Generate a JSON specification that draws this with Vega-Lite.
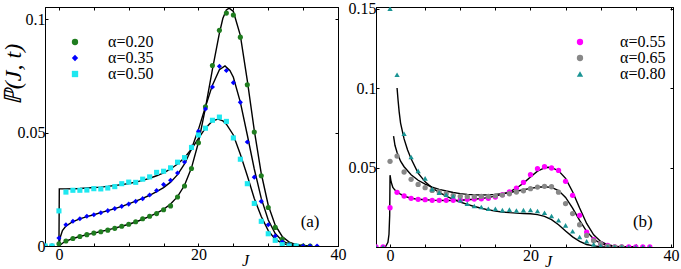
{
  "$schema": "https://vega.github.io/schema/vega-lite/v6.json",
  "background": "white",
  "padding": {"left": 0, "top": 0, "right": 5, "bottom": 0},
  "spacing": 0,
  "config": {
    "view": {"stroke": "black", "strokeWidth": 1},
    "axis": {"labelFont": "Liberation Serif", "labelFontSize": 16, "labelColor": "black", "domainColor": "black", "tickColor": "black", "tickSize": -3, "grid": false, "titleFont": "Liberation Serif", "titleColor": "black", "labelPadding": 3, "labelFlush": false},
    "legend": {"labelFont": "Liberation Serif", "labelFontSize": 16, "labelColor": "black", "padding": 0}
  },
  "datasets": {
    "ptsA": [
      {"J":-2,"P":0,"s":"α=0.20"},{"J":-1,"P":0,"s":"α=0.20"},{"J":0,"P":0.001,"s":"α=0.20"},{"J":1,"P":0.0022,"s":"α=0.20"},{"J":2,"P":0.0033,"s":"α=0.20"},{"J":3,"P":0.0042,"s":"α=0.20"},{"J":4,"P":0.005,"s":"α=0.20"},{"J":5,"P":0.0057,"s":"α=0.20"},{"J":6,"P":0.0063,"s":"α=0.20"},{"J":7,"P":0.007,"s":"α=0.20"},{"J":8,"P":0.0078,"s":"α=0.20"},{"J":9,"P":0.0087,"s":"α=0.20"},{"J":10,"P":0.0096,"s":"α=0.20"},{"J":11,"P":0.0107,"s":"α=0.20"},{"J":12,"P":0.012,"s":"α=0.20"},{"J":13,"P":0.0131,"s":"α=0.20"},{"J":14,"P":0.0143,"s":"α=0.20"},{"J":15,"P":0.016,"s":"α=0.20"},{"J":16,"P":0.0177,"s":"α=0.20"},{"J":17,"P":0.0216,"s":"α=0.20"},{"J":18,"P":0.0265,"s":"α=0.20"},{"J":19,"P":0.0342,"s":"α=0.20"},{"J":20,"P":0.0456,"s":"α=0.20"},{"J":21,"P":0.0615,"s":"α=0.20"},{"J":22,"P":0.0797,"s":"α=0.20"},{"J":23,"P":0.0952,"s":"α=0.20"},{"J":24,"P":0.1028,"s":"α=0.20"},{"J":25,"P":0.102,"s":"α=0.20"},{"J":26,"P":0.0922,"s":"α=0.20"},{"J":27,"P":0.0712,"s":"α=0.20"},{"J":28,"P":0.0503,"s":"α=0.20"},{"J":29,"P":0.031,"s":"α=0.20"},{"J":30,"P":0.017,"s":"α=0.20"},{"J":31,"P":0.0082,"s":"α=0.20"},{"J":32,"P":0.003,"s":"α=0.20"},{"J":33,"P":0.0007,"s":"α=0.20"},{"J":34,"P":0,"s":"α=0.20"},{"J":35,"P":0,"s":"α=0.20"},{"J":36,"P":0,"s":"α=0.20"},
      {"J":-2,"P":0,"s":"α=0.35"},{"J":-1,"P":0,"s":"α=0.35"},{"J":0,"P":0.0035,"s":"α=0.35"},{"J":1,"P":0.0094,"s":"α=0.35"},{"J":2,"P":0.0109,"s":"α=0.35"},{"J":3,"P":0.012,"s":"α=0.35"},{"J":4,"P":0.0131,"s":"α=0.35"},{"J":5,"P":0.0138,"s":"α=0.35"},{"J":6,"P":0.0147,"s":"α=0.35"},{"J":7,"P":0.0156,"s":"α=0.35"},{"J":8,"P":0.0165,"s":"α=0.35"},{"J":9,"P":0.0175,"s":"α=0.35"},{"J":10,"P":0.0185,"s":"α=0.35"},{"J":11,"P":0.0197,"s":"α=0.35"},{"J":12,"P":0.0209,"s":"α=0.35"},{"J":13,"P":0.0225,"s":"α=0.35"},{"J":14,"P":0.0245,"s":"α=0.35"},{"J":15,"P":0.0271,"s":"α=0.35"},{"J":16,"P":0.029,"s":"α=0.35"},{"J":17,"P":0.0322,"s":"α=0.35"},{"J":18,"P":0.0371,"s":"α=0.35"},{"J":19,"P":0.0437,"s":"α=0.35"},{"J":20,"P":0.0506,"s":"α=0.35"},{"J":21,"P":0.0605,"s":"α=0.35"},{"J":22,"P":0.0702,"s":"α=0.35"},{"J":23,"P":0.0793,"s":"α=0.35"},{"J":24,"P":0.0775,"s":"α=0.35"},{"J":25,"P":0.0721,"s":"α=0.35"},{"J":26,"P":0.0634,"s":"α=0.35"},{"J":27,"P":0.0459,"s":"α=0.35"},{"J":28,"P":0.0304,"s":"α=0.35"},{"J":29,"P":0.0197,"s":"α=0.35"},{"J":30,"P":0.0094,"s":"α=0.35"},{"J":31,"P":0.0044,"s":"α=0.35"},{"J":32,"P":0.0018,"s":"α=0.35"},{"J":33,"P":0.0005,"s":"α=0.35"},{"J":34,"P":0,"s":"α=0.35"},{"J":35,"P":0,"s":"α=0.35"},{"J":36,"P":0,"s":"α=0.35"},{"J":37,"P":0,"s":"α=0.35"},
      {"J":-2,"P":0,"s":"α=0.50"},{"J":-1,"P":0,"s":"α=0.50"},{"J":0,"P":0.0155,"s":"α=0.50"},{"J":1,"P":0.0238,"s":"α=0.50"},{"J":2,"P":0.0246,"s":"α=0.50"},{"J":3,"P":0.0246,"s":"α=0.50"},{"J":4,"P":0.0247,"s":"α=0.50"},{"J":5,"P":0.0253,"s":"α=0.50"},{"J":6,"P":0.0252,"s":"α=0.50"},{"J":7,"P":0.0256,"s":"α=0.50"},{"J":8,"P":0.0262,"s":"α=0.50"},{"J":9,"P":0.0275,"s":"α=0.50"},{"J":10,"P":0.0282,"s":"α=0.50"},{"J":11,"P":0.0281,"s":"α=0.50"},{"J":12,"P":0.0295,"s":"α=0.50"},{"J":13,"P":0.0305,"s":"α=0.50"},{"J":14,"P":0.0325,"s":"α=0.50"},{"J":15,"P":0.033,"s":"α=0.50"},{"J":16,"P":0.0345,"s":"α=0.50"},{"J":17,"P":0.037,"s":"α=0.50"},{"J":18,"P":0.039,"s":"α=0.50"},{"J":19,"P":0.0435,"s":"α=0.50"},{"J":20,"P":0.049,"s":"α=0.50"},{"J":21,"P":0.052,"s":"α=0.50"},{"J":22,"P":0.0555,"s":"α=0.50"},{"J":23,"P":0.0569,"s":"α=0.50"},{"J":24,"P":0.055,"s":"α=0.50"},{"J":25,"P":0.0477,"s":"α=0.50"},{"J":26,"P":0.0383,"s":"α=0.50"},{"J":27,"P":0.0275,"s":"α=0.50"},{"J":28,"P":0.0188,"s":"α=0.50"},{"J":29,"P":0.0109,"s":"α=0.50"},{"J":30,"P":0.0054,"s":"α=0.50"},{"J":31,"P":0.0025,"s":"α=0.50"},{"J":32,"P":0.0006,"s":"α=0.50"},{"J":33,"P":0,"s":"α=0.50"},{"J":34,"P":0,"s":"α=0.50"}
    ],
    "linA": [
      {"J":0,"P":0,"s":"a"},{"J":0.5,"P":0.0012,"s":"a"},{"J":1,"P":0.0022,"s":"a"},{"J":2,"P":0.0033,"s":"a"},{"J":3,"P":0.0042,"s":"a"},{"J":4,"P":0.005,"s":"a"},{"J":5,"P":0.0057,"s":"a"},{"J":6,"P":0.0064,"s":"a"},{"J":7,"P":0.0071,"s":"a"},{"J":8,"P":0.0079,"s":"a"},{"J":9,"P":0.0087,"s":"a"},{"J":10,"P":0.0096,"s":"a"},{"J":11,"P":0.0106,"s":"a"},{"J":12,"P":0.0118,"s":"a"},{"J":13,"P":0.0131,"s":"a"},{"J":14,"P":0.0145,"s":"a"},{"J":15,"P":0.0162,"s":"a"},{"J":16,"P":0.0185,"s":"a"},{"J":17,"P":0.0218,"s":"a"},{"J":18,"P":0.0268,"s":"a"},{"J":19,"P":0.0345,"s":"a"},{"J":20,"P":0.0458,"s":"a"},{"J":21,"P":0.061,"s":"a"},{"J":22,"P":0.078,"s":"a"},{"J":23,"P":0.094,"s":"a"},{"J":23.5,"P":0.1005,"s":"a"},{"J":24,"P":0.1042,"s":"a"},{"J":24.4,"P":0.105,"s":"a"},{"J":25,"P":0.1035,"s":"a"},{"J":26,"P":0.093,"s":"a"},{"J":27,"P":0.073,"s":"a"},{"J":28,"P":0.051,"s":"a"},{"J":29,"P":0.032,"s":"a"},{"J":30,"P":0.018,"s":"a"},{"J":31,"P":0.0092,"s":"a"},{"J":32,"P":0.0042,"s":"a"},{"J":33,"P":0.0017,"s":"a"},{"J":34,"P":0.0006,"s":"a"},{"J":35,"P":0.0002,"s":"a"},{"J":36,"P":0,"s":"a"},
      {"J":0,"P":0,"s":"b"},{"J":0.2,"P":0.004,"s":"b"},{"J":0.5,"P":0.0068,"s":"b"},{"J":1,"P":0.0088,"s":"b"},{"J":2,"P":0.0108,"s":"b"},{"J":3,"P":0.012,"s":"b"},{"J":4,"P":0.013,"s":"b"},{"J":5,"P":0.0138,"s":"b"},{"J":6,"P":0.0147,"s":"b"},{"J":7,"P":0.0156,"s":"b"},{"J":8,"P":0.0165,"s":"b"},{"J":9,"P":0.0175,"s":"b"},{"J":10,"P":0.0186,"s":"b"},{"J":11,"P":0.0198,"s":"b"},{"J":12,"P":0.021,"s":"b"},{"J":13,"P":0.0224,"s":"b"},{"J":14,"P":0.024,"s":"b"},{"J":15,"P":0.0258,"s":"b"},{"J":16,"P":0.0282,"s":"b"},{"J":17,"P":0.0315,"s":"b"},{"J":18,"P":0.0362,"s":"b"},{"J":19,"P":0.0428,"s":"b"},{"J":20,"P":0.0515,"s":"b"},{"J":21,"P":0.0615,"s":"b"},{"J":22,"P":0.071,"s":"b"},{"J":23,"P":0.0778,"s":"b"},{"J":23.8,"P":0.0795,"s":"b"},{"J":24.5,"P":0.0775,"s":"b"},{"J":25,"P":0.0745,"s":"b"},{"J":26,"P":0.0635,"s":"b"},{"J":27,"P":0.049,"s":"b"},{"J":28,"P":0.034,"s":"b"},{"J":29,"P":0.021,"s":"b"},{"J":30,"P":0.0115,"s":"b"},{"J":31,"P":0.0055,"s":"b"},{"J":32,"P":0.0023,"s":"b"},{"J":33,"P":0.0008,"s":"b"},{"J":34,"P":0.0002,"s":"b"},{"J":35,"P":0,"s":"b"},
      {"J":0,"P":0,"s":"c"},{"J":0.05,"P":0.0252,"s":"c"},{"J":1,"P":0.0252,"s":"c"},{"J":2,"P":0.0253,"s":"c"},{"J":3,"P":0.0254,"s":"c"},{"J":4,"P":0.0256,"s":"c"},{"J":5,"P":0.0258,"s":"c"},{"J":6,"P":0.026,"s":"c"},{"J":7,"P":0.0263,"s":"c"},{"J":8,"P":0.0267,"s":"c"},{"J":9,"P":0.0271,"s":"c"},{"J":10,"P":0.0276,"s":"c"},{"J":11,"P":0.0282,"s":"c"},{"J":12,"P":0.029,"s":"c"},{"J":13,"P":0.0299,"s":"c"},{"J":14,"P":0.031,"s":"c"},{"J":15,"P":0.0323,"s":"c"},{"J":16,"P":0.034,"s":"c"},{"J":17,"P":0.0362,"s":"c"},{"J":18,"P":0.039,"s":"c"},{"J":19,"P":0.0428,"s":"c"},{"J":20,"P":0.0475,"s":"c"},{"J":21,"P":0.052,"s":"c"},{"J":22,"P":0.0552,"s":"c"},{"J":22.8,"P":0.056,"s":"c"},{"J":23.5,"P":0.0552,"s":"c"},{"J":24,"P":0.0538,"s":"c"},{"J":25,"P":0.049,"s":"c"},{"J":26,"P":0.0405,"s":"c"},{"J":27,"P":0.031,"s":"c"},{"J":28,"P":0.021,"s":"c"},{"J":29,"P":0.013,"s":"c"},{"J":30,"P":0.0068,"s":"c"},{"J":31,"P":0.003,"s":"c"},{"J":32,"P":0.0012,"s":"c"},{"J":33,"P":0.0004,"s":"c"},{"J":34,"P":0,"s":"c"}
    ],
    "ptsB": [
      {"J":-2,"P":0,"s":"α=0.55"},{"J":-1,"P":0,"s":"α=0.55"},{"J":0,"P":0.0247,"s":"α=0.55"},{"J":1,"P":0.0344,"s":"α=0.55"},{"J":2,"P":0.0321,"s":"α=0.55"},{"J":3,"P":0.0306,"s":"α=0.55"},{"J":4,"P":0.03,"s":"α=0.55"},{"J":5,"P":0.0298,"s":"α=0.55"},{"J":6,"P":0.0294,"s":"α=0.55"},{"J":7,"P":0.0294,"s":"α=0.55"},{"J":8,"P":0.0294,"s":"α=0.55"},{"J":9,"P":0.0294,"s":"α=0.55"},{"J":10,"P":0.0296,"s":"α=0.55"},{"J":11,"P":0.03,"s":"α=0.55"},{"J":12,"P":0.0302,"s":"α=0.55"},{"J":13,"P":0.0303,"s":"α=0.55"},{"J":14,"P":0.0306,"s":"α=0.55"},{"J":15,"P":0.0314,"s":"α=0.55"},{"J":16,"P":0.0329,"s":"α=0.55"},{"J":17,"P":0.0346,"s":"α=0.55"},{"J":18,"P":0.0371,"s":"α=0.55"},{"J":19,"P":0.0406,"s":"α=0.55"},{"J":20,"P":0.0455,"s":"α=0.55"},{"J":21,"P":0.0493,"s":"α=0.55"},{"J":22,"P":0.0505,"s":"α=0.55"},{"J":23,"P":0.0497,"s":"α=0.55"},{"J":24,"P":0.0482,"s":"α=0.55"},{"J":25,"P":0.0413,"s":"α=0.55"},{"J":26,"P":0.0325,"s":"α=0.55"},{"J":27,"P":0.0199,"s":"α=0.55"},{"J":28,"P":0.0094,"s":"α=0.55"},{"J":29,"P":0.0046,"s":"α=0.55"},{"J":30,"P":0.0021,"s":"α=0.55"},{"J":31,"P":0.001,"s":"α=0.55"},{"J":32,"P":0,"s":"α=0.55"},{"J":33,"P":0,"s":"α=0.55"},{"J":34,"P":0,"s":"α=0.55"},{"J":35,"P":0,"s":"α=0.55"},{"J":36,"P":0,"s":"α=0.55"},{"J":37,"P":0,"s":"α=0.55"},
      {"J":0,"P":0.0539,"s":"α=0.65"},{"J":1,"P":0.0572,"s":"α=0.65"},{"J":2,"P":0.0472,"s":"α=0.65"},{"J":3,"P":0.0426,"s":"α=0.65"},{"J":4,"P":0.0394,"s":"α=0.65"},{"J":5,"P":0.0373,"s":"α=0.65"},{"J":6,"P":0.0356,"s":"α=0.65"},{"J":7,"P":0.0346,"s":"α=0.65"},{"J":8,"P":0.0335,"s":"α=0.65"},{"J":9,"P":0.0325,"s":"α=0.65"},{"J":10,"P":0.0319,"s":"α=0.65"},{"J":11,"P":0.0317,"s":"α=0.65"},{"J":12,"P":0.0317,"s":"α=0.65"},{"J":13,"P":0.0319,"s":"α=0.65"},{"J":14,"P":0.0319,"s":"α=0.65"},{"J":15,"P":0.0322,"s":"α=0.65"},{"J":16,"P":0.0327,"s":"α=0.65"},{"J":17,"P":0.0335,"s":"α=0.65"},{"J":18,"P":0.0346,"s":"α=0.65"},{"J":19,"P":0.0354,"s":"α=0.65"},{"J":20,"P":0.0367,"s":"α=0.65"},{"J":21,"P":0.0377,"s":"α=0.65"},{"J":22,"P":0.0382,"s":"α=0.65"},{"J":23,"P":0.0379,"s":"α=0.65"},{"J":24,"P":0.0345,"s":"α=0.65"},{"J":25,"P":0.0273,"s":"α=0.65"},{"J":26,"P":0.021,"s":"α=0.65"},{"J":27,"P":0.014,"s":"α=0.65"},{"J":28,"P":0.0073,"s":"α=0.65"},{"J":29,"P":0.004,"s":"α=0.65"},{"J":30,"P":0.0021,"s":"α=0.65"},{"J":31,"P":0.0006,"s":"α=0.65"},{"J":32,"P":0,"s":"α=0.65"},{"J":33,"P":0,"s":"α=0.65"},
      {"J":-2,"P":0,"s":"α=0.80"},{"J":-1,"P":0,"s":"α=0.80"},{"J":0,"P":0.15,"s":"α=0.80"},{"J":1,"P":0.1084,"s":"α=0.80"},{"J":2,"P":0.0713,"s":"α=0.80"},{"J":3,"P":0.0566,"s":"α=0.80"},{"J":4,"P":0.0479,"s":"α=0.80"},{"J":5,"P":0.0432,"s":"α=0.80"},{"J":6,"P":0.0364,"s":"α=0.80"},{"J":7,"P":0.0342,"s":"α=0.80"},{"J":8,"P":0.0329,"s":"α=0.80"},{"J":9,"P":0.0319,"s":"α=0.80"},{"J":10,"P":0.0294,"s":"α=0.80"},{"J":11,"P":0.0272,"s":"α=0.80"},{"J":12,"P":0.0258,"s":"α=0.80"},{"J":13,"P":0.0252,"s":"α=0.80"},{"J":14,"P":0.0241,"s":"α=0.80"},{"J":15,"P":0.0241,"s":"α=0.80"},{"J":16,"P":0.0232,"s":"α=0.80"},{"J":17,"P":0.0235,"s":"α=0.80"},{"J":18,"P":0.023,"s":"α=0.80"},{"J":19,"P":0.0232,"s":"α=0.80"},{"J":20,"P":0.0233,"s":"α=0.80"},{"J":21,"P":0.0226,"s":"α=0.80"},{"J":22,"P":0.0216,"s":"α=0.80"},{"J":23,"P":0.0195,"s":"α=0.80"},{"J":24,"P":0.0168,"s":"α=0.80"},{"J":25,"P":0.0136,"s":"α=0.80"},{"J":26,"P":0.0099,"s":"α=0.80"},{"J":27,"P":0.0063,"s":"α=0.80"},{"J":28,"P":0.0036,"s":"α=0.80"},{"J":29,"P":0.0017,"s":"α=0.80"},{"J":30,"P":0.0007,"s":"α=0.80"},{"J":31,"P":0,"s":"α=0.80"},{"J":32,"P":0,"s":"α=0.80"},{"J":33,"P":0,"s":"α=0.80"},{"J":34,"P":0,"s":"α=0.80"},{"J":35,"P":0,"s":"α=0.80"},{"J":36,"P":0,"s":"α=0.80"},{"J":37,"P":0,"s":"α=0.80"}
    ],
    "linB": [
      {"J":-1,"P":0,"s":"m"},{"J":-0.6,"P":0.0005,"s":"m"},{"J":-0.3,"P":0.003,"s":"m"},{"J":-0.15,"P":0.008,"s":"m"},{"J":-0.05,"P":0.02,"s":"m"},{"J":0,"P":0.0452,"s":"m"},{"J":0.15,"P":0.041,"s":"m"},{"J":0.4,"P":0.0375,"s":"m"},{"J":0.7,"P":0.0358,"s":"m"},{"J":1,"P":0.0347,"s":"m"},{"J":1.5,"P":0.0332,"s":"m"},{"J":2,"P":0.032,"s":"m"},{"J":3,"P":0.0307,"s":"m"},{"J":4,"P":0.03,"s":"m"},{"J":5,"P":0.0297,"s":"m"},{"J":6,"P":0.0295,"s":"m"},{"J":8,"P":0.0293,"s":"m"},{"J":10,"P":0.0294,"s":"m"},{"J":12,"P":0.03,"s":"m"},{"J":14,"P":0.0311,"s":"m"},{"J":16,"P":0.0331,"s":"m"},{"J":17,"P":0.0347,"s":"m"},{"J":18,"P":0.037,"s":"m"},{"J":19,"P":0.0402,"s":"m"},{"J":20,"P":0.044,"s":"m"},{"J":21,"P":0.0477,"s":"m"},{"J":22,"P":0.0498,"s":"m"},{"J":22.5,"P":0.0502,"s":"m"},{"J":23,"P":0.0499,"s":"m"},{"J":24,"P":0.048,"s":"m"},{"J":25,"P":0.0432,"s":"m"},{"J":26,"P":0.0348,"s":"m"},{"J":27,"P":0.0245,"s":"m"},{"J":28,"P":0.0148,"s":"m"},{"J":29,"P":0.0077,"s":"m"},{"J":30,"P":0.0035,"s":"m"},{"J":31,"P":0.0014,"s":"m"},{"J":32,"P":0.0005,"s":"m"},{"J":33,"P":0.0001,"s":"m"},{"J":35,"P":0,"s":"m"},
      {"J":0.5,"P":0.0698,"s":"g"},{"J":0.7,"P":0.064,"s":"g"},{"J":1,"P":0.0595,"s":"g"},{"J":1.5,"P":0.054,"s":"g"},{"J":2,"P":0.0505,"s":"g"},{"J":3,"P":0.0455,"s":"g"},{"J":4,"P":0.042,"s":"g"},{"J":5,"P":0.0395,"s":"g"},{"J":6,"P":0.0377,"s":"g"},{"J":7,"P":0.0363,"s":"g"},{"J":8,"P":0.0352,"s":"g"},{"J":9,"P":0.0343,"s":"g"},{"J":10,"P":0.0336,"s":"g"},{"J":11,"P":0.0331,"s":"g"},{"J":12,"P":0.0328,"s":"g"},{"J":13,"P":0.0327,"s":"g"},{"J":14,"P":0.0328,"s":"g"},{"J":15,"P":0.0331,"s":"g"},{"J":16,"P":0.0336,"s":"g"},{"J":17,"P":0.0343,"s":"g"},{"J":18,"P":0.0351,"s":"g"},{"J":19,"P":0.036,"s":"g"},{"J":20,"P":0.0369,"s":"g"},{"J":21,"P":0.0376,"s":"g"},{"J":22,"P":0.0379,"s":"g"},{"J":23,"P":0.0375,"s":"g"},{"J":24,"P":0.0355,"s":"g"},{"J":25,"P":0.0312,"s":"g"},{"J":26,"P":0.0245,"s":"g"},{"J":27,"P":0.0168,"s":"g"},{"J":28,"P":0.0098,"s":"g"},{"J":29,"P":0.005,"s":"g"},{"J":30,"P":0.0022,"s":"g"},{"J":31,"P":0.0009,"s":"g"},{"J":32,"P":0.0003,"s":"g"},{"J":33,"P":0.0001,"s":"g"},{"J":35,"P":0,"s":"g"},
      {"J":1,"P":0.1,"s":"t"},{"J":1.15,"P":0.092,"s":"t"},{"J":1.3,"P":0.085,"s":"t"},{"J":1.5,"P":0.078,"s":"t"},{"J":2,"P":0.068,"s":"t"},{"J":2.5,"P":0.061,"s":"t"},{"J":3,"P":0.0555,"s":"t"},{"J":4,"P":0.0465,"s":"t"},{"J":5,"P":0.041,"s":"t"},{"J":6,"P":0.0372,"s":"t"},{"J":7,"P":0.0343,"s":"t"},{"J":8,"P":0.032,"s":"t"},{"J":9,"P":0.03,"s":"t"},{"J":10,"P":0.0283,"s":"t"},{"J":11,"P":0.0268,"s":"t"},{"J":12,"P":0.0255,"s":"t"},{"J":13,"P":0.0244,"s":"t"},{"J":14,"P":0.0234,"s":"t"},{"J":15,"P":0.0226,"s":"t"},{"J":16,"P":0.022,"s":"t"},{"J":17,"P":0.0216,"s":"t"},{"J":18,"P":0.0213,"s":"t"},{"J":19,"P":0.0211,"s":"t"},{"J":20,"P":0.0209,"s":"t"},{"J":21,"P":0.0204,"s":"t"},{"J":22,"P":0.0193,"s":"t"},{"J":23,"P":0.0172,"s":"t"},{"J":24,"P":0.014,"s":"t"},{"J":25,"P":0.0101,"s":"t"},{"J":26,"P":0.0064,"s":"t"},{"J":27,"P":0.0035,"s":"t"},{"J":28,"P":0.0016,"s":"t"},{"J":29,"P":0.0007,"s":"t"},{"J":30,"P":0.0002,"s":"t"},{"J":31,"P":0,"s":"t"}
    ],
    "labA": [{"J":36,"P":0.0105,"t":"(a)"}],
    "labB": [{"J":36,"P":0.0157,"t":"(b)"}]
  },
  "hconcat": [
    {
      "width": 293, "height": 239,
      "layer": [
        {
          "data": {"name": "linA"},
          "mark": {"type": "line", "color": "black", "strokeWidth": 1.4, "clip": true},
          "encoding": {
            "x": {"field": "J", "type": "quantitative", "scale": {"domain": [-2, 40], "nice": false}, "axis": {"orient": "top", "values": [0,5,10,15,20,25,30,35,40], "labels": false, "title": null}},
            "y": {"field": "P", "type": "quantitative", "scale": {"domain": [0, 0.1055], "nice": false, "zero": false}, "axis": {"orient": "right", "values": [0, 0.05, 0.1], "labels": false, "title": null}},
            "detail": {"field": "s"}
          }
        },
        {
          "data": {"name": "ptsA"},
          "mark": {"type": "point", "filled": true, "opacity": 1, "size": 26, "clip": true},
          "encoding": {
            "x": {"field": "J", "type": "quantitative", "axis": {"orient": "bottom", "values": [0,5,10,15,20,25,30,35,40], "labelExpr": "datum.value % 20 === 0 ? datum.label : ''", "title": "J", "titleFontStyle": "italic", "titleFontWeight": "normal", "titleFontSize": 16, "titleX": 200, "titleY": 14, "titleBaseline": "middle"}},
            "y": {"field": "P", "type": "quantitative", "axis": {"orient": "left", "values": [0, 0.05, 0.1], "format": "~g", "title": "ℙ(J, t)", "titleFontStyle": "italic", "titleFontWeight": "normal", "titleFontSize": 24, "titleX": -32, "titleY": 67, "titleAngle": -90, "titleBaseline": "middle", "titleAlign": "center"}},
            "color": {"field": "s", "type": "nominal", "scale": {"domain": ["α=0.20", "α=0.35", "α=0.50"], "range": ["#1f7d1f", "#0000ff", "#1ee8f0"]}, "legend": {"orient": "none", "legendX": 22, "legendY": 27, "title": null, "symbolSize": 40, "labelOffset": 25, "rowPadding": -1.9, "symbolStrokeWidth": 0}},
            "shape": {"field": "s", "type": "nominal", "scale": {"domain": ["α=0.20", "α=0.35", "α=0.50"], "range": ["circle", "diamond", "square"]}, "legend": {"orient": "none", "legendX": 22, "legendY": 27, "title": null, "symbolSize": 40, "labelOffset": 25, "rowPadding": -1.9, "symbolStrokeWidth": 0}}
          }
        },
        {
          "data": {"name": "labA"},
          "mark": {"type": "text", "font": "Liberation Serif", "fontSize": 17, "color": "black", "baseline": "middle", "align": "center"},
          "encoding": {"x": {"field": "J", "type": "quantitative", "axis": null}, "y": {"field": "P", "type": "quantitative", "axis": null}, "text": {"field": "t"}}
        }
      ],
      "resolve": {"axis": {"x": "independent", "y": "independent"}}
    },
    {
      "width": 297, "height": 240,
      "layer": [
        {
          "data": {"name": "linB"},
          "mark": {"type": "line", "color": "black", "strokeWidth": 1.4, "clip": true},
          "encoding": {
            "x": {"field": "J", "type": "quantitative", "scale": {"domain": [-2, 40.3], "nice": false}, "axis": {"orient": "top", "values": [0,5,10,15,20,25,30,35,40], "labels": false, "title": null}},
            "y": {"field": "P", "type": "quantitative", "scale": {"domain": [0, 0.151], "nice": false, "zero": false}, "axis": {"orient": "right", "values": [0.05, 0.1, 0.15], "labels": false, "title": null}},
            "detail": {"field": "s"}
          }
        },
        {
          "data": {"name": "ptsB"},
          "mark": {"type": "point", "filled": true, "opacity": 1, "size": 28, "clip": true},
          "encoding": {
            "x": {"field": "J", "type": "quantitative", "axis": {"orient": "bottom", "values": [0,5,10,15,20,25,30,35,40], "labelExpr": "datum.value % 20 === 0 ? datum.label : ''", "title": "J", "titleFontStyle": "italic", "titleFontWeight": "normal", "titleFontSize": 16, "titleX": 172, "titleY": 14, "titleBaseline": "middle"}},
            "y": {"field": "P", "type": "quantitative", "axis": {"orient": "left", "values": [0.05, 0.1, 0.15], "format": "~g", "title": null}},
            "color": {"field": "s", "type": "nominal", "scale": {"domain": ["α=0.55", "α=0.65", "α=0.80"], "range": ["#ff00ff", "#888888", "#1a9494"]}, "legend": {"orient": "none", "legendX": 196, "legendY": 27, "title": null, "symbolSize": 40, "labelOffset": 32, "rowPadding": -1.9, "symbolStrokeWidth": 0}},
            "shape": {"field": "s", "type": "nominal", "scale": {"domain": ["α=0.55", "α=0.65", "α=0.80"], "range": ["circle", "circle", "triangle-up"]}, "legend": {"orient": "none", "legendX": 196, "legendY": 27, "title": null, "symbolSize": 40, "labelOffset": 32, "rowPadding": -1.9, "symbolStrokeWidth": 0}}
          }
        },
        {
          "data": {"name": "labB"},
          "mark": {"type": "text", "font": "Liberation Serif", "fontSize": 17, "color": "black", "baseline": "middle", "align": "center"},
          "encoding": {"x": {"field": "J", "type": "quantitative", "axis": null}, "y": {"field": "P", "type": "quantitative", "axis": null}, "text": {"field": "t"}}
        }
      ],
      "resolve": {"axis": {"x": "independent", "y": "independent"}}
    }
  ],
  "resolve": {"scale": {"color": "independent", "shape": "independent"}, "legend": {"color": "independent", "shape": "independent"}}
}
